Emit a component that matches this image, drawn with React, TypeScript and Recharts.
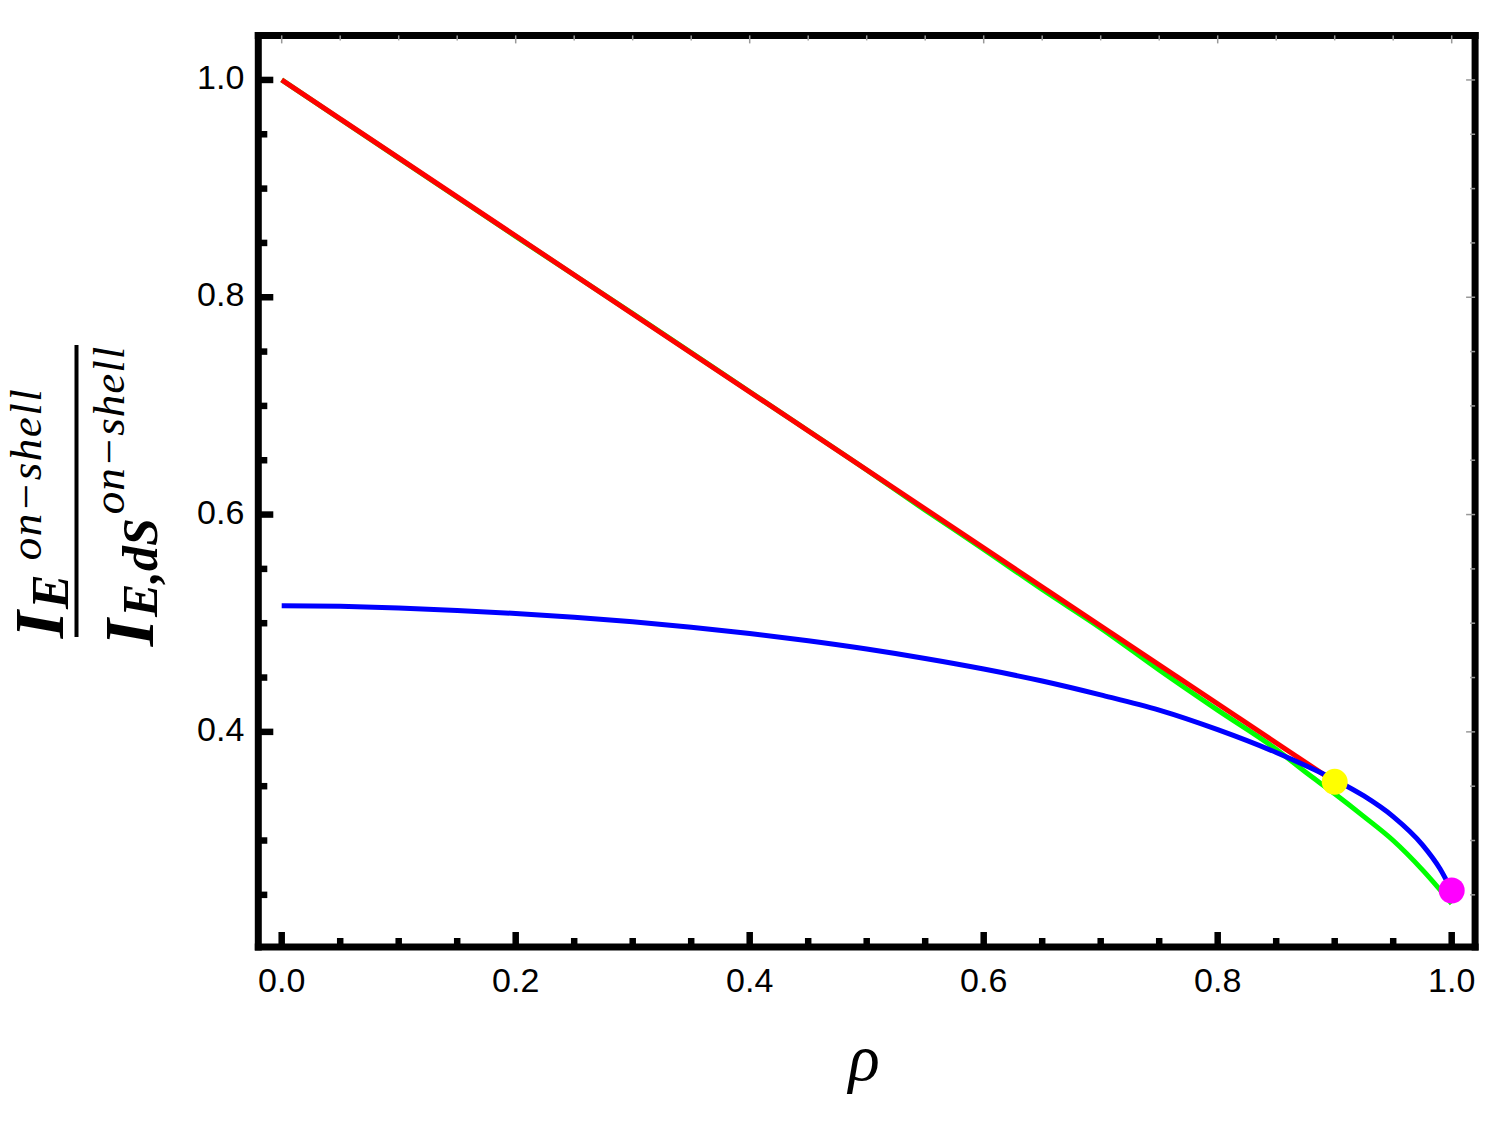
import React from "react";
import { LineChart, Line, XAxis, YAxis, ReferenceDot } from "recharts";

// rho grid + curve values
const rhoBlue = [0, 0.05, 0.1, 0.15, 0.2, 0.25, 0.3, 0.35, 0.4, 0.45, 0.5, 0.55, 0.6, 0.65, 0.7, 0.75, 0.8, 0.85, 0.875, 0.9, 0.925, 0.95, 0.975, 0.99, 1.0];
const blueValues = [0.516, 0.5155, 0.514, 0.5118, 0.509, 0.5055, 0.5013, 0.4963, 0.4905, 0.4838, 0.4762, 0.4675, 0.4578, 0.4468, 0.434, 0.42, 0.402, 0.381, 0.369, 0.356, 0.341, 0.322, 0.296, 0.274, 0.254];

const rhoGreen = [0, 0.1, 0.2, 0.3, 0.4, 0.5, 0.55, 0.6, 0.65, 0.7, 0.75, 0.8, 0.85, 0.875, 0.9, 0.925, 0.95, 0.975, 1.0];
const greenValues = [1.0, 0.928, 0.856, 0.785, 0.713, 0.641, 0.604, 0.568, 0.531, 0.4955, 0.457, 0.42, 0.384, 0.363, 0.343, 0.322, 0.3, 0.273, 0.242];

const rhoRed = [0, 0.9];
const redValues = [1.0, 0.354];

const markerRho = [0.9, 1.0];
const markerValues = [0.354, 0.254];
const markerColors = ["#FFFF00", "#FF00FF"];

const xTicks = [0, 0.05, 0.1, 0.15, 0.2, 0.25, 0.3, 0.35, 0.4, 0.45, 0.5, 0.55, 0.6, 0.65, 0.7, 0.75, 0.8, 0.85, 0.9, 0.95, 1.0];
const yTicks = [0.25, 0.3, 0.35, 0.4, 0.45, 0.5, 0.55, 0.6, 0.65, 0.7, 0.75, 0.8, 0.85, 0.9, 0.95, 1.0];
const majorTicks = [0, 0.2, 0.4, 0.6, 0.8, 1.0];

const blueData = rhoBlue.map((x, i) => ({ x, y: blueValues[i] }));
const greenData = rhoGreen.map((x, i) => ({ x, y: greenValues[i] }));
const redData = rhoRed.map((x, i) => ({ x, y: redValues[i] }));

const isMajor = (v: number) => majorTicks.some((m) => Math.abs(m - v) < 1e-6);

const labelFont = "'Liberation Sans', Arial, sans-serif";
const serif = "'Liberation Serif', 'Times New Roman', serif";

function BottomTick({ x, y, payload }: any) {
  const major = isMajor(payload.value);
  return (
    <g>
      <line x1={x} x2={x} y1={y} y2={y - (major ? 15 : 9)} stroke="#000" strokeWidth={6.5} />
      {major && (
        <text x={x} y={y + 45} textAnchor="middle" fontSize={34} fontFamily={labelFont} fill="#000">
          {payload.value.toFixed(1)}
        </text>
      )}
    </g>
  );
}

function LeftTick({ x, y, payload }: any) {
  const major = isMajor(payload.value);
  return (
    <g>
      <line x1={x} x2={x + (major ? 15 : 9)} y1={y} y2={y} stroke="#000" strokeWidth={6.5} />
      {major && (
        <text x={x - 14} y={y + 9} textAnchor="end" fontSize={34} fontFamily={labelFont} fill="#000">
          {payload.value.toFixed(1)}
        </text>
      )}
    </g>
  );
}

function TopTick({ x, y, payload }: any) {
  const major = isMajor(payload.value);
  return <line x1={x} x2={x} y1={y} y2={y + (major ? 8 : 5)} stroke="#999" strokeWidth={1.5} />;
}

function RightTick({ x, y, payload }: any) {
  const major = isMajor(payload.value);
  return <line x1={x} x2={x - (major ? 9 : 5)} y1={y} y2={y} stroke="#999" strokeWidth={1.5} />;
}

const frame = { stroke: "#000", strokeWidth: 7, strokeLinecap: "square" as const };

export default function App() {
  return (
    <div style={{ position: "absolute", left: 0, top: 0, width: 1495, height: 1121, background: "#fff" }}>
      <LineChart width={1495} height={1121} margin={{ top: 34.4, right: 18.9, left: 257.3, bottom: 173 }}>
        <XAxis
          type="number"
          dataKey="x"
          domain={[-0.02, 1.02]}
          allowDataOverflow
          ticks={xTicks}
          interval={0}
          height={1}
          tickSize={0}
          tickMargin={0}
          tickLine={false}
          axisLine={frame}
          tick={BottomTick}
        />
        <XAxis
          xAxisId="top"
          orientation="top"
          type="number"
          dataKey="x"
          domain={[-0.02, 1.02]}
          allowDataOverflow
          ticks={xTicks}
          interval={0}
          height={1}
          tickSize={0}
          tickMargin={0}
          tickLine={false}
          axisLine={frame}
          tick={TopTick}
        />
        <YAxis
          type="number"
          domain={[0.202, 1.041]}
          allowDataOverflow
          ticks={yTicks}
          interval={0}
          width={1}
          tickSize={0}
          tickMargin={0}
          tickLine={false}
          axisLine={frame}
          tick={LeftTick}
        />
        <YAxis
          yAxisId="right"
          orientation="right"
          type="number"
          domain={[0.202, 1.041]}
          allowDataOverflow
          ticks={yTicks}
          interval={0}
          width={1}
          tickSize={0}
          tickMargin={0}
          tickLine={false}
          axisLine={frame}
          tick={RightTick}
        />
        <Line data={greenData} dataKey="y" type="monotone" stroke="#00FF00" strokeWidth={5} dot={false} isAnimationActive={false} />
        <Line data={redData} dataKey="y" type="linear" stroke="#FF0000" strokeWidth={5} dot={false} isAnimationActive={false} />
        <Line data={blueData} dataKey="y" type="monotone" stroke="#0000FF" strokeWidth={5} dot={false} isAnimationActive={false} />
        {markerRho.map((x, i) => (
          <ReferenceDot key={i} x={x} y={markerValues[i]} r={13} fill={markerColors[i]} stroke="none" ifOverflow="visible" />
        ))}
      </LineChart>
      <svg width={1495} height={1121} style={{ position: "absolute", left: 0, top: 0, pointerEvents: "none" }}>
        <text transform="translate(63, 513) rotate(-90)" textAnchor="middle" fontFamily={serif} fill="#000">
          <tspan fontSize={70} fontWeight="bold" fontStyle="italic">I</tspan>
          <tspan fontSize={52} fontWeight="bold" fontStyle="italic" dx={2} dy={5}>E</tspan>
          <tspan fontSize={45} fontStyle="italic" letterSpacing={1.5} dx={14} dy={-27}>on−shell</tspan>
        </text>
        <line x1={76.5} x2={76.5} y1={345} y2={637} stroke="#000" strokeWidth={4} />
        <text transform="translate(153, 496) rotate(-90)" textAnchor="middle" fontFamily={serif} fill="#000">
          <tspan fontSize={70} fontWeight="bold" fontStyle="italic">I</tspan>
          <tspan fontSize={50} fontWeight="bold" fontStyle="italic" dx={2} dy={4}>E,dS</tspan>
          <tspan fontSize={45} fontStyle="italic" letterSpacing={1} dx={4} dy={-33}>on−shell</tspan>
        </text>
        <text x={864} y={1080} textAnchor="middle" fontSize={65} fontStyle="italic" fontFamily={serif} fill="#000">
          ρ
        </text>
      </svg>
    </div>
  );
}
